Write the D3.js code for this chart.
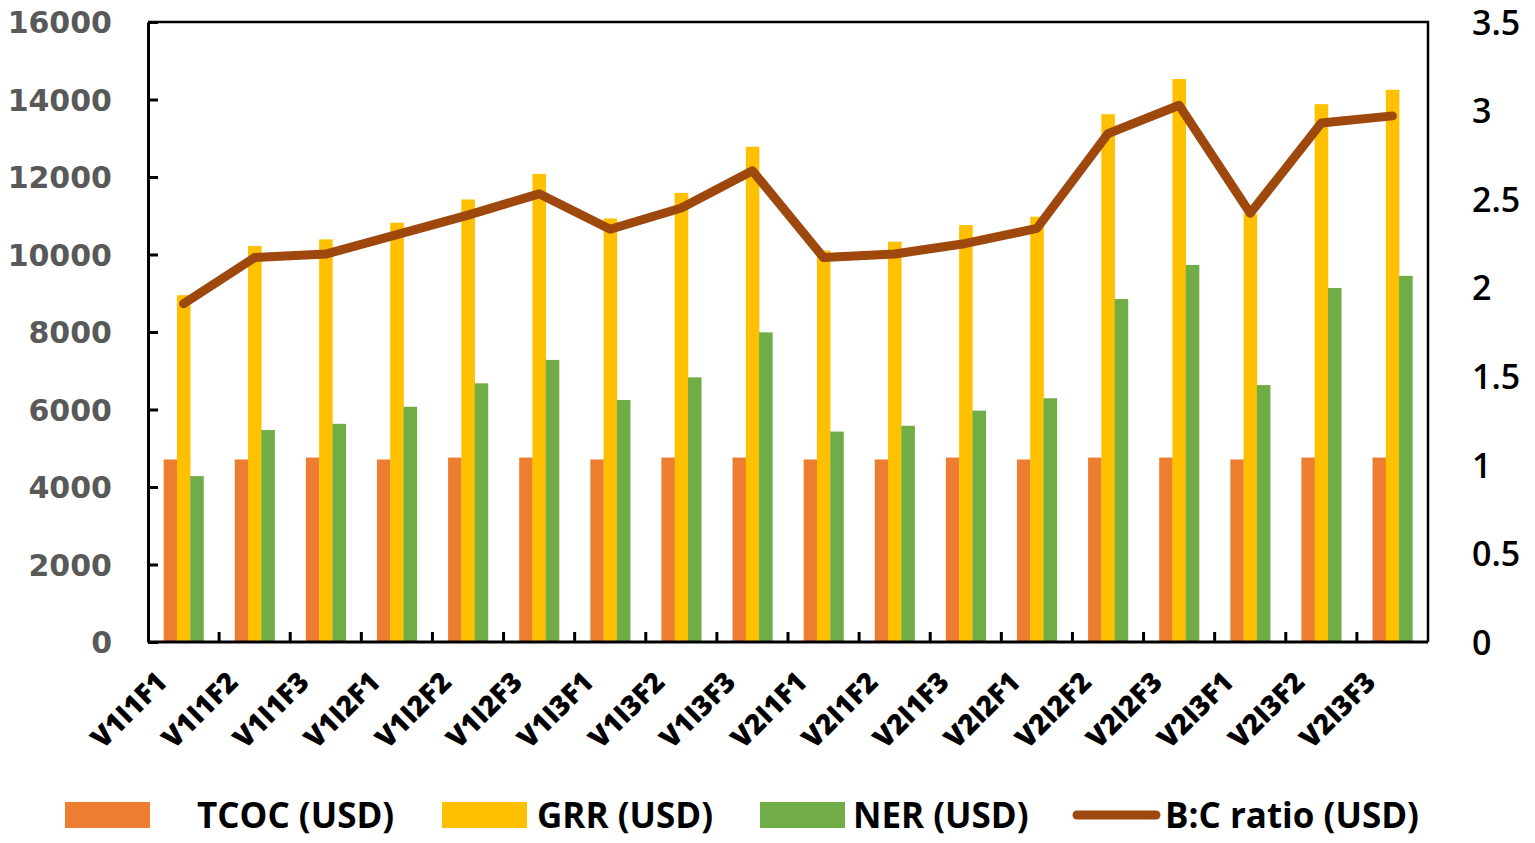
<!DOCTYPE html>
<html>
<head>
<meta charset="utf-8">
<script src="https://cdn.jsdelivr.net/npm/d3@7"></script>
<style>
  body { margin: 0; background: #fff; }
</style>
</head>
<body>
<div class="chart"></div>
<script>
const categories = ['V1I1F1', 'V1I1F2', 'V1I1F3', 'V1I2F1', 'V1I2F2', 'V1I2F3', 'V1I3F1', 'V1I3F2', 'V1I3F3',
                    'V2I1F1', 'V2I1F2', 'V2I1F3', 'V2I2F1', 'V2I2F2', 'V2I2F3', 'V2I3F1', 'V2I3F2', 'V2I3F3']
const tcoc = [4710, 4710, 4760, 4710, 4760, 4760, 4710, 4760, 4760, 4710, 4710, 4760, 4710, 4760, 4760, 4710, 4760, 4760]
const grr = [8950, 10220, 10390, 10820, 11420, 12080, 10930, 11590, 12780, 10100, 10330, 10760, 10975, 13620, 14530, 11050, 13880, 14250]
const ner = [4280, 5470, 5630, 6070, 6675, 7280, 6245, 6830, 7990, 5430, 5580, 5970, 6290, 8850, 9730, 6630, 9135, 9450]
const bcRatio = [1.91, 2.17, 2.19, 2.30, 2.41, 2.53, 2.33, 2.45, 2.66, 2.17, 2.19, 2.25, 2.335, 2.87, 3.03, 2.42, 2.93, 2.97]
const leftTicks = [0, 2000, 4000, 6000, 8000, 10000, 12000, 14000, 16000]
const rightTicks = [0, 0.5, 1, 1.5, 2, 2.5, 3, 3.5]

const seriesNames = ['TCOC (USD)', 'GRR (USD)', 'NER (USD)']
const seriesData = [tcoc, grr, ner]
const colors = {tcoc: '#ED7D31', grr: '#FFC000', ner: '#70AD47', line: '#9E480E'}
const barColors = [colors.tcoc, colors.grr, colors.ner]

let width = 1535, height = 843
let mLeft = 148, mRight = 1428, mTop = 22, mBottom = 642

let svg = d3.select('.chart')
    .append('svg')
    .attr('width', width)
    .attr('height', height)

let x = d3.scaleBand()
    .domain(categories)
    .range([mLeft, mRight])
    .paddingInner(0.44)
    .paddingOuter(0.22)
let xOuter = d3.scaleBand().domain(categories).range([mLeft, mRight])
let xSub = d3.scaleBand().domain([0, 1, 2]).range([0, x.bandwidth()])
let y = d3.scaleLinear().domain([0, 16000]).range([mBottom, mTop])
let y2 = d3.scaleLinear().domain([0, 3.5]).range([mBottom, mTop])

// bars
let rows = categories.map((c, i) => ({cat: c, vals: seriesData.map(s => s[i])}))
svg.append('g')
    .selectAll('g')
    .data(rows)
    .join('g')
    .attr('transform', d => `translate(${x(d.cat)},0)`)
    .selectAll('rect')
    .data(d => d.vals)
    .join('rect')
    .attr('x', (d, i) => xSub(i))
    .attr('width', xSub.bandwidth() + 0.3)
    .attr('y', d => y(d))
    .attr('height', d => mBottom - y(d))
    .attr('fill', (d, i) => barColors[i])

// B:C ratio line
let line = d3.line()
    .x((d, i) => xOuter(categories[i]) + xOuter.bandwidth() / 2)
    .y(d => y2(d))
svg.append('path')
    .datum(bcRatio)
    .attr('d', line)
    .attr('fill', 'none')
    .attr('stroke', colors.line)
    .attr('stroke-width', 9)
    .attr('stroke-linejoin', 'round')
    .attr('stroke-linecap', 'round')

// frame: top + right
svg.append('path')
    .attr('d', `M${mLeft},${mTop}H${mRight}V${mBottom}`)
    .attr('fill', 'none')
    .attr('stroke', '#000')
    .attr('stroke-width', 2.5)

// left axis
let yAxis = d3.axisLeft(y).tickValues(leftTicks).tickSize(-10).tickSizeOuter(0).tickPadding(36)
    .tickFormat(d3.format('d'))
let gy = svg.append('g')
    .attr('transform', `translate(${mLeft},0)`)
    .call(yAxis)
gy.select('.domain').attr('stroke', '#000').attr('stroke-width', 3)
gy.selectAll('.tick line').attr('stroke', '#000').attr('stroke-width', 3)
gy.selectAll('.tick text')
    .attr('font-family', 'DejaVu Sans')
    .attr('font-weight', 'bold')
    .attr('font-size', 30)
    .attr('fill', '#595959')
    .attr('dy', '0.36em')

// right axis (labels only)
let y2Axis = d3.axisRight(y2).tickValues(rightTicks).tickSize(0).tickPadding(44)
    .tickFormat(d => d)
let gy2 = svg.append('g')
    .attr('transform', `translate(${mRight},0)`)
    .call(y2Axis)
gy2.select('.domain').remove()
gy2.selectAll('.tick text')
    .attr('font-family', 'Open Sans')
    .attr('font-weight', 600)
    .attr('font-size', 34)
    .attr('fill', '#000')
    .attr('dy', '0.36em')

// bottom axis line + ticks between categories
svg.append('line')
    .attr('x1', mLeft).attr('x2', mRight)
    .attr('y1', mBottom).attr('y2', mBottom)
    .attr('stroke', '#000').attr('stroke-width', 3)
svg.append('g')
    .selectAll('line')
    .data(categories.slice(1))
    .join('line')
    .attr('x1', d => xOuter(d)).attr('x2', d => xOuter(d))
    .attr('y1', mBottom).attr('y2', mBottom - 10)
    .attr('stroke', '#000').attr('stroke-width', 3)

// category labels
svg.append('g')
    .selectAll('text')
    .data(categories)
    .join('text')
    .attr('transform', d => `translate(${xOuter(d) + xOuter.bandwidth() / 2 - 15},${mBottom + 42}) rotate(-45)`)
    .attr('text-anchor', 'end')
    .attr('font-family', 'Open Sans')
    .attr('font-weight', 800)
    .attr('font-size', 28)
    .attr('fill', '#000')
    .text(d => d)

// legend
let legendItems = [
    {name: seriesNames[0], color: colors.tcoc, sx: 65, tx: 197},
    {name: seriesNames[1], color: colors.grr, sx: 442, tx: 537},
    {name: seriesNames[2], color: colors.ner, sx: 760, tx: 853}
]
let lg = svg.append('g')
lg.selectAll('rect')
    .data(legendItems)
    .join('rect')
    .attr('x', d => d.sx).attr('y', 802)
    .attr('width', 85).attr('height', 26)
    .attr('fill', d => d.color)
lg.selectAll('text')
    .data(legendItems.concat([{name: 'B:C ratio (USD)', tx: 1165}]))
    .join('text')
    .attr('x', d => d.tx).attr('y', 815)
    .attr('dy', '0.36em')
    .attr('font-family', 'Open Sans')
    .attr('font-weight', 700)
    .attr('font-size', 35)
    .attr('fill', '#000')
    .text(d => d.name)
lg.append('line')
    .attr('x1', 1077).attr('x2', 1156)
    .attr('y1', 815).attr('y2', 815)
    .attr('stroke', colors.line)
    .attr('stroke-width', 9)
    .attr('stroke-linecap', 'round')
</script>
</body>
</html>
